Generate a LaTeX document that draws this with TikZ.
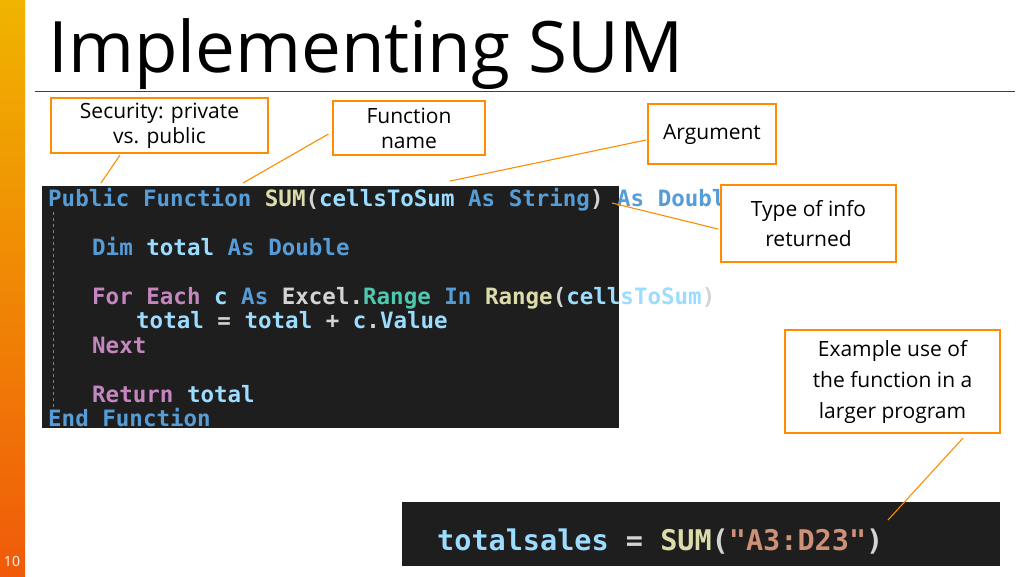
\documentclass[tikz,border=0pt]{standalone}
\usepackage{fontspec}
\setmainfont{Open Sans}
\newfontfamily\codefont{DejaVu Sans Mono}
\begin{document}
\begin{tikzpicture}[x=1pt,y=-1pt,
  lbl/.style={draw=orange!90!yellow, line width=1.1pt, fill=white, align=center, font=\fontsize{21}{25}\selectfont, inner sep=0pt},
  conn/.style={draw=orange!90!yellow, line width=1.1pt},
  code/.style={anchor=base west, inner sep=0pt, font=\codefont\bfseries\fontsize{22.5}{24}\selectfont, text=cdef}]
\definecolor{cdef}{HTML}{D4D4D4}
\definecolor{ckw}{HTML}{569CD6}
\definecolor{cfn}{HTML}{DCDCAA}
\definecolor{cid}{HTML}{9CDCFE}
\definecolor{ccl}{HTML}{4EC9B0}
\definecolor{cct}{HTML}{C586C0}
\definecolor{cstr}{HTML}{CE9178}
\definecolor{cbg}{HTML}{1E1E1E}
\useasboundingbox (0,0) rectangle (1024,576);
\shade[top color={rgb,255:red,240;green,180;blue,0}, bottom color={rgb,255:red,240;green,90;blue,10}] (0,0) rectangle (25,576);
\node[anchor=base, text=white, font=\fontsize{14}{16}\selectfont] (pg) at (12,566) {10};
\node[anchor=base west, inner sep=0pt, font=\fontsize{71}{80}\selectfont] (title) at (48,72) {Implementing SUM};
\draw[color={rgb,255:red,60;green,50;blue,140}, line width=0.8pt] (35,91) -- (1015,91);
% code block
\fill[cbg] (42,186) rectangle (619,428);
\draw[gray, dashed, line width=0.6pt] (53,212) -- (53,408);
\node[code] (l1) at (48,206) {\color{ckw}Public Function \color{cfn}SUM\color{cdef}(\color{cid}cellsToSum \color{ckw}As String\color{cdef}) \color{ckw}As Double};
\node[code] (l2) at (92,255) {\color{ckw}Dim \color{cid}total \color{ckw}As Double};
\node[code] (l3) at (92,304) {\color{cct}For Each \color{cid}c \color{ckw}As \color{cdef}Excel.\color{ccl}Range \color{ckw}In \color{cfn}Range\color{cdef}(\color{cid}cellsToSum\color{cdef})};
\node[code] (l4) at (136,328) {\color{cid}total \color{cdef}= \color{cid}total \color{cdef}+ \color{cid}c\color{cdef}.\color{cid}Value};
\node[code] (l5) at (92,353) {\color{cct}Next};
\node[code] (l6) at (92,402) {\color{cct}Return \color{cid}total};
\node[code] (l7) at (48,426) {\color{ckw}End Function};
% bottom code
\fill[cbg] (402,502) rectangle (1000,566);
\node[code, font=\codefont\bfseries\fontsize{28.5}{30}\selectfont] (use) at (437,550) {\color{cid}totalsales \color{cdef}= \color{cfn}SUM\color{cdef}(\color{cstr}"A3:D23"\color{cdef})};
% labels
\node[lbl, minimum width=217pt, minimum height=55pt] (sec) at (159.5,125.5) {Security: private\\vs. public};
\node[lbl, minimum width=152pt, minimum height=54pt] (fn) at (409,128) {Function\\name};
\node[lbl, minimum width=128pt, minimum height=60pt] (arg) at (712,134) {Argument};
\node[lbl, minimum width=175pt, minimum height=77pt, font=\fontsize{21}{30}\selectfont] (typ) at (808.5,223.5) {Type of info\\returned};
\node[lbl, minimum width=215pt, minimum height=103pt, font=\fontsize{21}{31}\selectfont] (ex) at (892.5,381.5) {Example use of\\the function in a\\larger program};
\coordinate (c1) at (101,183);
\coordinate (c2) at (243,183);
\coordinate (c3) at (450,181);
\coordinate (c4) at (612,203);
\coordinate (c5) at (888,520);
\draw[conn] (120,155) -- (c1);
\draw[conn] (fn.west) ++(-4,6) -- (c2);
\draw[conn] (646,140) -- (c3);
\draw[conn] (718,229) -- (c4);
\draw[conn] (963,438) -- (c5);
\end{tikzpicture}
\end{document}
